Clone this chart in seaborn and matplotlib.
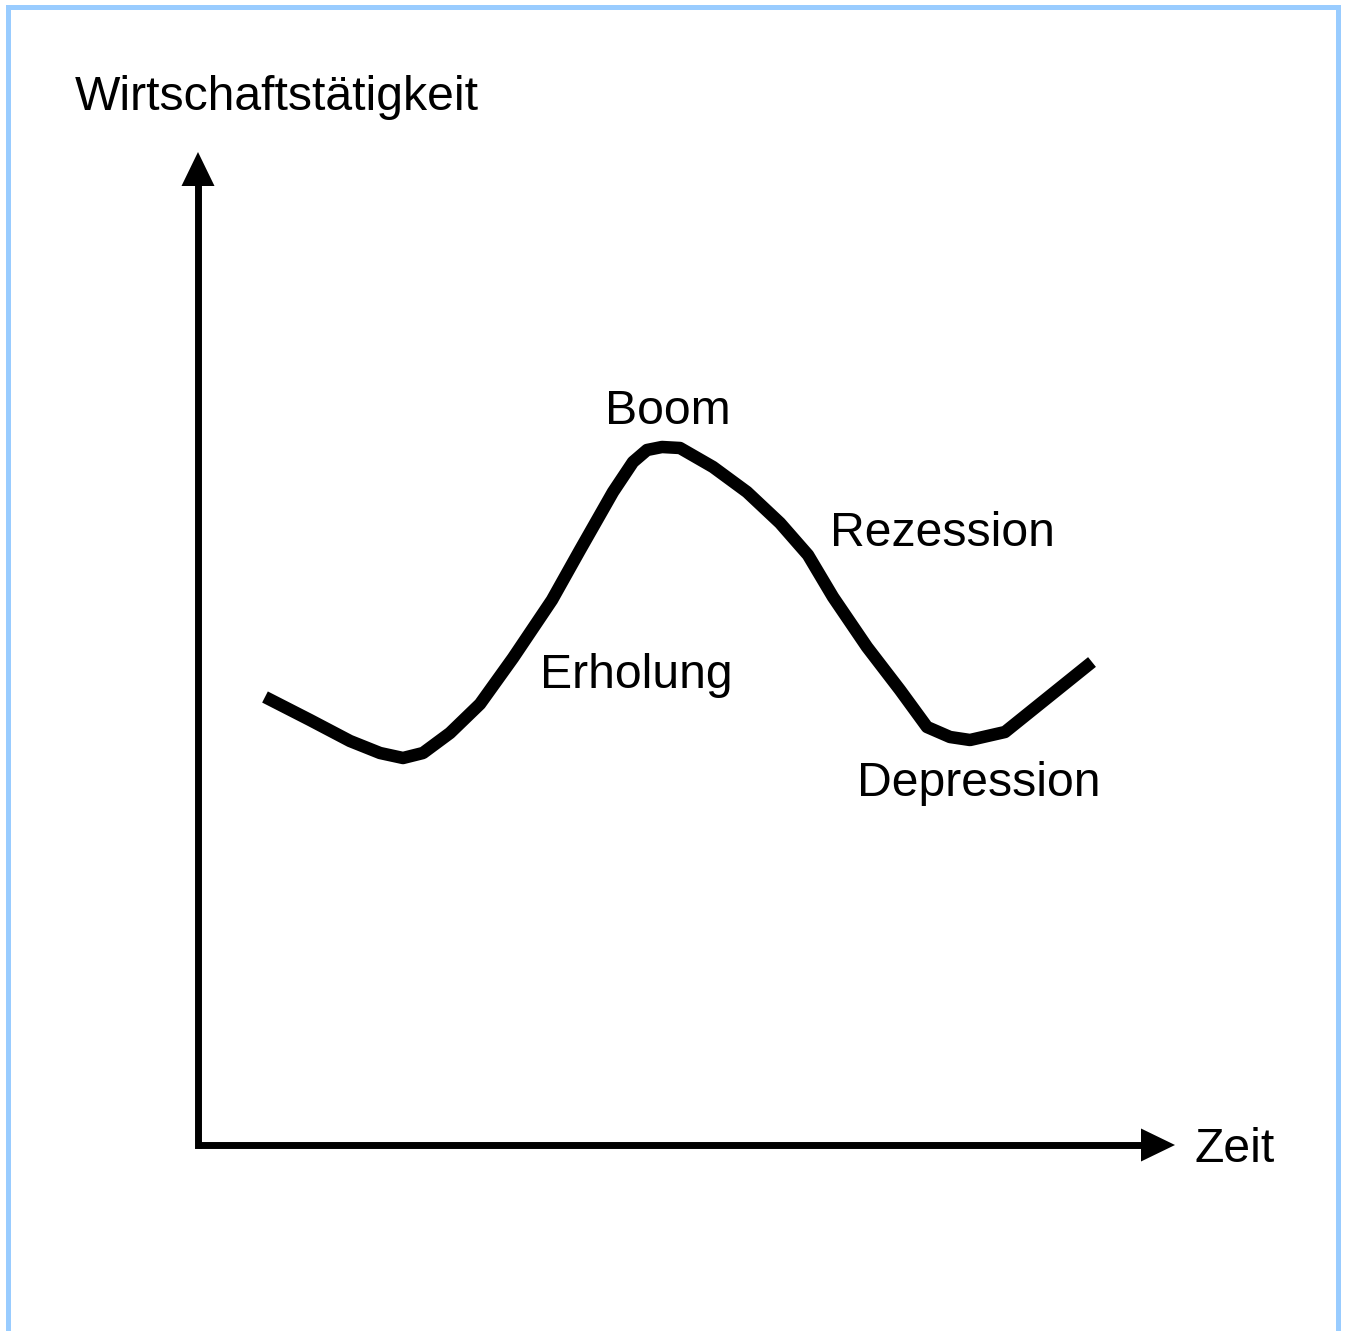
import matplotlib
matplotlib.use("Agg")
import matplotlib.pyplot as plt
import seaborn as sns
import pandas as pd
from matplotlib.patches import Rectangle

sns.set_style("white")
plt.rcParams['font.family'] = ['Liberation Sans', 'DejaVu Sans']

# Business cycle curve (time vs. economic activity)
zeit = [6.7, 11.2, 15.2, 18.2, 20.5, 22.5, 25.2, 28.2, 31.5, 35.4, 38.2, 41.5,
        43.5, 44.9, 46.4, 48.2, 51.5, 54.9, 58.2, 61.0, 63.5, 66.9, 70.2, 72.9,
        75.2, 77.2, 80.7, 89.4]
aktivitaet = [44.8, 42.5, 40.4, 39.2, 38.7, 39.2, 41.2, 44.1, 48.7, 54.5, 59.5, 65.3,
              68.3, 69.5, 69.8, 69.7, 67.8, 65.3, 62.2, 59.0, 54.8, 49.8, 45.5, 41.8,
              40.8, 40.5, 41.3, 48.3]

# Phase labels and their anchor points
phasen = ["Boom", "Rezession", "Erholung", "Depression"]
phasen_x = [40.7, 63.2, 34.2, 65.9]
phasen_y = [72.1, 59.9, 45.7, 34.9]

df = pd.DataFrame({"Zeit": zeit, "Wirtschaftstätigkeit": aktivitaet})

W, H = 1348, 1331
fig = plt.figure(figsize=(W / 100, H / 100), dpi=100)
ax = fig.add_axes([0, 0, 1, 1])
ax.set_xlim(-19.8, (W - 198) / 10)
ax.set_ylim(-(H - 1145) / 10, 114.5)
ax.axis("off")

# Axes with arrow heads
ax.plot([0, 0], [0, 96], color="black", lw=5, solid_capstyle="projecting")
ax.plot([0, 94.4], [0, 0], color="black", lw=5, solid_capstyle="butt")
ax.fill([-1.65, 1.65, 0], [95.9, 95.9, 99.3], color="black", lw=0)
ax.fill([94.3, 94.3, 97.7], [1.65, -1.65, 0], color="black", lw=0)

sns.lineplot(data=df, x="Zeit", y="Wirtschaftstätigkeit", ax=ax, color="black",
             lw=9, sort=False, estimator=None, legend=False,
             solid_capstyle="butt", solid_joinstyle="round")

fs = 34.7
ax.text(-12.3, 103.5, "Wirtschaftstätigkeit", fontsize=fs, ha="left",
        va="baseline", color="black")
ax.text(99.7, -1.7, "Zeit", fontsize=fs, ha="left", va="baseline", color="black")
for lab, x, y in zip(phasen, phasen_x, phasen_y):
    ax.text(x, y, lab, fontsize=fs, ha="left", va="baseline", color="black")

# Light blue frame
fig.patches.append(Rectangle((7.5 / W, -0.02), (1337.5 - 7.5) / W, 1.02 - 7.5 / H,
                             transform=fig.transFigure, fill=False,
                             edgecolor="#99CCFF", lw=3.6, zorder=10))

fig.savefig("out.png", dpi=100)
